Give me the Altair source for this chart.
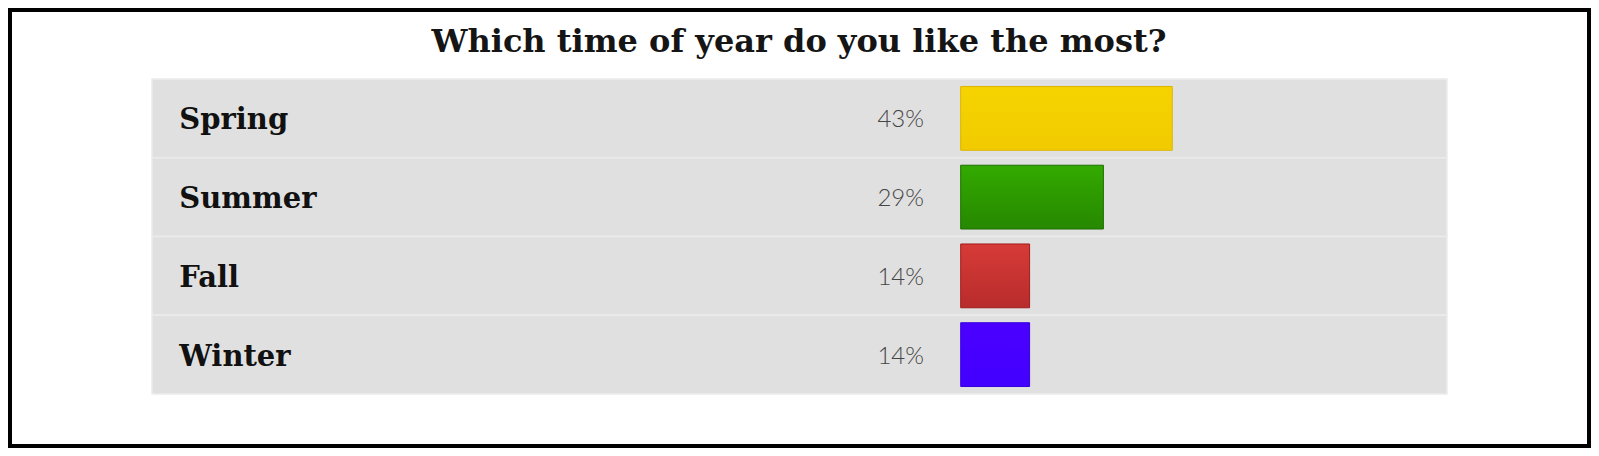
import altair as alt
import pandas as pd

# ---- data ----
categories = ["Spring", "Summer", "Fall", "Winter"]
percents = [43, 29, 14, 14]
title_text = "Which time of year do you like the most?"

# ---- styles (kept apart from data) ----
top_colors = ["#f5d300", "#33aa00", "#d63b37", "#4b00ff"]
bottom_colors = ["#f1cb00", "#268800", "#b82c2c", "#4200ff"]
stroke_colors = ["#dcb400", "#1d6e00", "#a01c1c", "#3800dd"]

W, H = 1583, 440
PANEL_X0, PANEL_X1 = 144, 1439
PANEL_Y0, PANEL_Y1 = 71, 386
BAR_X0 = 952.7
PX_PER_100 = 492

df = pd.DataFrame({"cat": categories, "pct": percents})

y_scale = alt.Scale(domain=categories, range=[PANEL_Y0, PANEL_Y1], paddingInner=0, paddingOuter=0)
x_scale = alt.Scale(domain=[0, 100], range=[BAR_X0, BAR_X0 + PX_PER_100])
Y = alt.Y("cat:N", scale=y_scale, axis=None, sort=categories)

base = alt.Chart(df)

rows = base.mark_rect(fill="#e0e0e0", stroke="#ebebeb", strokeWidth=1.5).encode(
    x=alt.value(PANEL_X0), x2=alt.value(PANEL_X1), y=Y
)

bar_layers = []
for i, c in enumerate(categories):
    grad = {
        "gradient": "linear", "x1": 0, "y1": 0, "x2": 0, "y2": 1,
        "stops": [{"offset": 0, "color": top_colors[i]}, {"offset": 1, "color": bottom_colors[i]}],
    }
    bar_layers.append(
        base.transform_filter(alt.datum.cat == c)
        .mark_bar(fill=grad, stroke=stroke_colors[i], strokeWidth=1, height={"band": 0.81})
        .encode(x=alt.X("pct:Q", scale=x_scale, axis=None), x2=alt.datum(0), y=Y)
    )

labels = base.mark_text(
    align="left", baseline="alphabetic", dy=11, font="DejaVu Serif", fontWeight="bold",
    fontSize=29, color="#111111",
).encode(x=alt.value(171.3), y=Y, text="cat:N")

pct_labels = base.transform_calculate(lbl="datum.pct + '%'").mark_text(
    align="right", baseline="alphabetic", dy=9, font="Lato", fontWeight=300,
    fontSize=24, color="#454545",
).encode(x=alt.value(916), y=Y, text="lbl:N")

title = alt.Chart(pd.DataFrame({"t": [title_text]})).mark_text(
    align="center", baseline="alphabetic", font="DejaVu Serif", fontWeight="bold",
    fontSize=32, color="#151515",
).encode(x=alt.value(791), y=alt.value(44), text="t:N")

frame = alt.Chart(pd.DataFrame({"t": [0]})).mark_rect(
    fill="transparent", stroke="#000000", strokeWidth=4
).encode(x=alt.value(2), x2=alt.value(W - 2), y=alt.value(2), y2=alt.value(H - 2))

chart = alt.layer(rows, *bar_layers, labels, pct_labels, title, frame).properties(
    width=W, height=H, padding=0
).configure_view(stroke=None).configure(background="#ffffff")

chart.save("out.html", embed_options={"renderer": "svg", "actions": False})
